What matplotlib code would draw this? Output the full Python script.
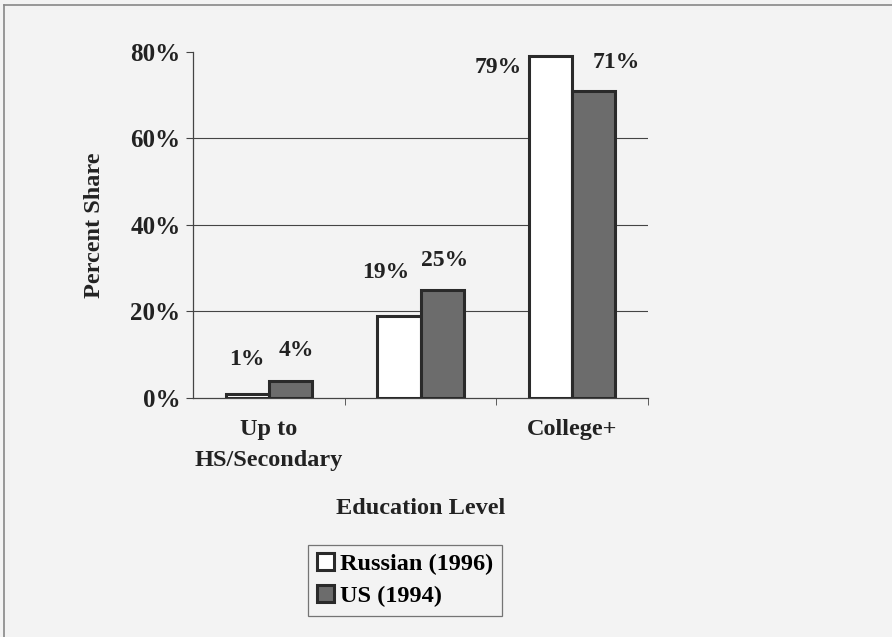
import matplotlib
matplotlib.use("Agg")
import matplotlib.pyplot as plt
import numpy as np
from matplotlib.lines import Line2D

# data
categories = ["Up to\nHS/Secondary", "", "College+"]
russian = [1, 19, 79]
us = [4, 25, 71]
series_names = ["Russian (1996)", "US (1994)"]
yticks = [0, 20, 40, 60, 80]

# label nudges in pixels (dx, dy from bar top centre), as placed in the original
russian_offsets = [(0, 24), (-13, 33), (-52, -22)]
us_offsets = [(6, 20), (2, 19), (22, 18)]

plt.rcParams["font.family"] = ["Liberation Serif", "DejaVu Serif"]
plt.rcParams["font.weight"] = "bold"

bg = "#f3f3f3"
ink = "#222222"
fig = plt.figure(figsize=(8.92, 6.37), dpi=100, facecolor=bg)
ax = fig.add_axes([0.2164, 0.3752, 0.5101, 0.5432])
ax.set_facecolor(bg)

x = np.arange(len(categories))
w = 0.285
b1 = ax.bar(x - w / 2, russian, w, color="white", edgecolor="#2a2a2a", linewidth=2.2, zorder=3)
b2 = ax.bar(x + w / 2, us, w, color="#6c6c6c", edgecolor="#2a2a2a", linewidth=2.2, zorder=3)

for bars, vals, offs in ((b1, russian, russian_offsets), (b2, us, us_offsets)):
    for bar, v, (dx, dy) in zip(bars, vals, offs):
        ax.annotate(f"{v}%", (bar.get_x() + bar.get_width() / 2, bar.get_height()),
                    xytext=(dx, dy), textcoords="offset pixels",
                    ha="center", va="bottom", fontsize=17, fontweight="bold",
                    color=ink)

ax.set_xlim(-0.5, 2.5)
ax.set_ylim(0, 80)
ax.set_yticks(yticks)
ax.set_yticklabels([f"{t}%" for t in yticks], fontsize=18, fontweight="bold", color=ink)
for t in yticks[1:-1]:
    ax.axhline(t, color="#444444", linewidth=0.8, zorder=1)

ax.set_xticks(x)
ax.set_xticklabels(categories, fontsize=17.5, fontweight="bold", color=ink, linespacing=1.65)
ax.tick_params(axis="x", which="major", length=0, pad=15)
ax.set_xticks([0.5, 1.5, 2.5], minor=True)
ax.tick_params(axis="x", which="minor", length=5, direction="out", color="#444444")
ax.tick_params(axis="y", length=5, direction="out", color="#444444", pad=4)

for side in ("top", "right"):
    ax.spines[side].set_visible(False)
for side in ("left", "bottom"):
    ax.spines[side].set_color("#444444")
    ax.spines[side].set_linewidth(0.9)

ax.set_ylabel("Percent Share", fontsize=17.5, fontweight="bold", color=ink)
ax.yaxis.set_label_coords(-0.193, 0.5)
ax.set_xlabel("Education Level", fontsize=17.5, fontweight="bold", color=ink)
ax.xaxis.set_label_coords(0.5, -0.29)

leg = ax.legend([b1, b2], series_names, loc="center",
                bbox_to_anchor=(0.454, 0.089), bbox_transform=fig.transFigure,
                fancybox=False, frameon=True, handlelength=0.7,
                handleheight=0.7, handletextpad=0.25, labelspacing=0.4,
                borderpad=0.35, prop={"weight": "bold", "size": 17.5})
leg.get_frame().set_edgecolor("#555555")
leg.get_frame().set_facecolor(bg)
leg.get_frame().set_linewidth(0.9)

# scanned page frame along the left and top edge
fig.add_artist(Line2D([0.005, 0.005], [0.0, 0.992], transform=fig.transFigure,
                      color="#888888", linewidth=1.2))
fig.add_artist(Line2D([0.005, 1.0], [0.992, 0.992], transform=fig.transFigure,
                      color="#888888", linewidth=1.2))

fig.savefig("out.png", dpi=100, facecolor=bg)
